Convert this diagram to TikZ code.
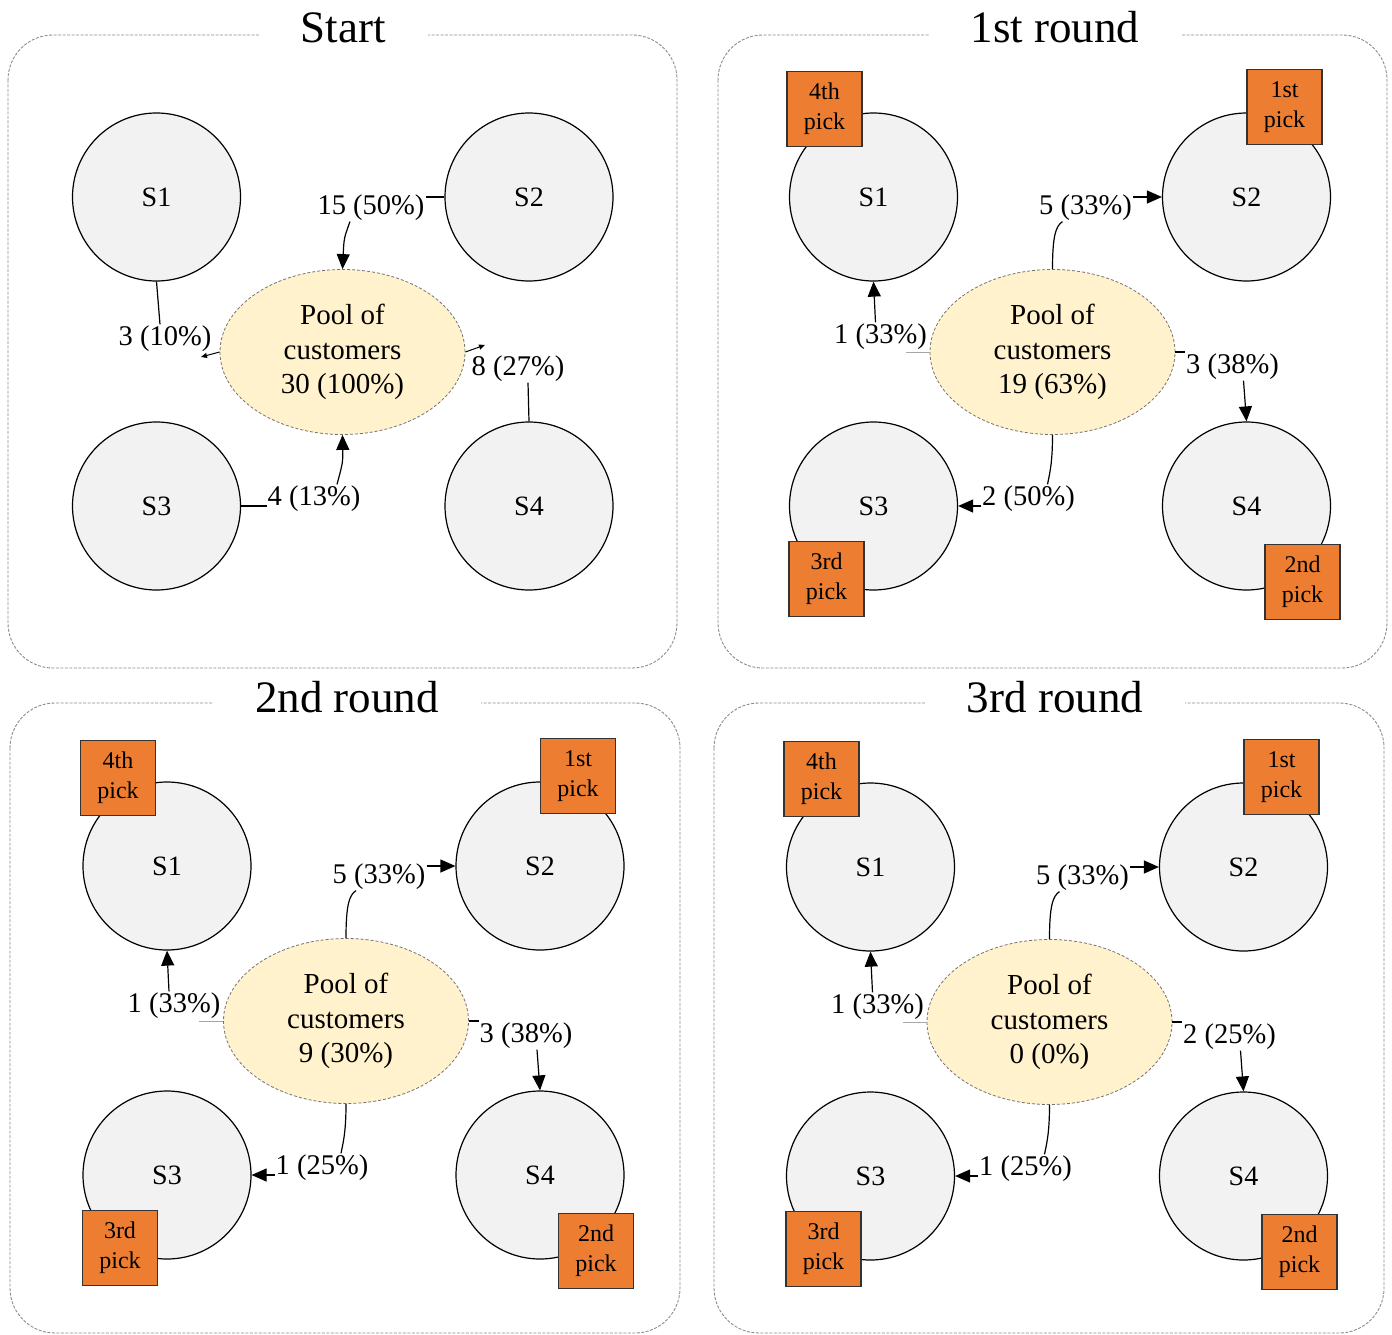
\documentclass[tikz,border=0pt]{standalone}
\usepackage{fontspec}
\setmainfont{Liberation Serif}
\usetikzlibrary{shapes.geometric,arrows.meta}

\definecolor{stationgray}{HTML}{F2F2F2}
\definecolor{poolyellow}{HTML}{FFF2CC}
\definecolor{pickorange}{HTML}{ED7D31}

\tikzset{
  station/.style={circle, draw=black, line width=1.2pt, fill=stationgray,
    minimum size=168pt, inner sep=0pt, font=\fontsize{28}{32}\selectfont},
  pool/.style={ellipse, draw=black!55, dash pattern=on 3pt off 2pt, line width=0.8pt,
    fill=poolyellow, minimum width=245pt, minimum height=165pt, inner sep=0pt,
    align=center, font=\fontsize{29}{34.5}\selectfont},
  pick/.style={rectangle, draw=black!80, line width=1.2pt, fill=pickorange,
    minimum size=75pt, inner sep=0pt, align=center, font=\fontsize{24}{30}\selectfont},
  flow/.style={font=\fontsize{28.5}{32}\selectfont, inner sep=1pt, yshift=-2.5pt},
  link/.style={line width=1.2pt},
  faintlink/.style={line width=1pt, draw=black!35},
  arr/.style={line width=1.2pt, -{Triangle[length=15pt,width=13pt]}},
  tinyarr/.style={line width=1pt, -{Triangle[length=6pt,width=5pt]}},
  panelframe/.style={draw=black!45, dash pattern=on 3pt off 1.5pt, line width=0.9pt,
    rounded corners=45pt},
  paneltitle/.style={fill=white, inner xsep=42pt, inner ysep=3pt, anchor=base,
    font=\fontsize{45}{50}\selectfont},
}

% One round of picks, drawn around the pool centre (#2,#3).
% #1 name prefix, #4 pool count, #5 top flow, #6 right flow,
% #7 bottom flow, #8 left flow
\newcommand\roundpanel[8]{%
  \begin{scope}[shift={(#2,#3)}]
    \node[pool] (#1p) at (0,0) {Pool of\\customers\\#4};
    \node[station] (#1s1) at (-179,-155) {S1};
    \node[station] (#1s2) at (194,-155) {S2};
    \node[station] (#1s3) at (-179,154) {S3};
    \node[station] (#1s4) at (194,154) {S4};
    \node[pick] (#1k4) at (-228,-243) {4th\\pick};
    \node[pick] (#1k1) at (232,-245) {1st\\pick};
    \node[pick] (#1k3) at (-226,227) {3rd\\pick};
    \node[pick] (#1k2) at (250,230) {2nd\\pick};
    \node[flow] (#1ft) at (33,-147) {#5};
    \node[flow] (#1fr) at (180,12) {#6};
    \node[flow] (#1fb) at (-24,144) {#7};
    \node[flow] (#1fl) at (-172,-18) {#8};
    % pool -> S2
    \draw[link] (#1p.north) .. controls (0,-115) and (3,-126) .. ([xshift=-23pt]#1ft.south);
    \draw[arr] (#1ft.east |- #1s2.west) -- (#1s2.west);
    % pool -> S1
    \coordinate (#1cl) at (-147,0);
    \draw[faintlink] (#1p.west) -- (#1cl);
    \draw[arr] ([xshift=-5pt]#1fl.north) -- (#1s1.south);
    % pool -> S4
    \draw[link] (#1p.east) -- (#1fr.west |- #1p.east);
    \draw[arr] ([xshift=11pt]#1fr.south) -- (#1s4.north);
    % pool -> S3
    \draw[link] (#1p.south) .. controls (0,112) and (-3,122) .. ([xshift=19pt]#1fb.north);
    \draw[arr] (#1fb.west |- #1s3.east) -- (#1s3.east);
  \end{scope}}

\begin{document}
\begin{tikzpicture}[x=1pt,y=-1pt]
\useasboundingbox (0,0) rectangle (1392,1335);

% panel frames and titles
\draw[panelframe] (8,35) rectangle (677,668);
\draw[panelframe] (718,35) rectangle (1387,668);
\draw[panelframe] (10,703) rectangle (680,1333);
\draw[panelframe] (714,703) rectangle (1384,1333);
\node[paneltitle] (t0) at (343,43) {Start};
\node[paneltitle] (t1) at (1055,43) {1st round};
\node[paneltitle] (t2) at (347,712) {2nd round};
\node[paneltitle] (t3) at (1055,712) {3rd round};

% Start: every station hands its customers to the pool
\node[pool] (ap) at (342.5,352) {Pool of\\customers\\30 (100\%)};
\node[station] (a1) at (156.5,197) {S1};
\node[station] (a2) at (529,197) {S2};
\node[station] (a3) at (156.5,506) {S3};
\node[station] (a4) at (529,506) {S4};

\node[flow] (af1) at (165,336) {3 (10\%)};
\draw[link] (a1.south) -- ([xshift=-5pt]af1.north);
\coordinate (at1) at (201,357);
\draw[tinyarr] (ap.west) -- (at1);

\node[flow] (af2) at (371,205) {15 (50\%)};
\draw[link] (a2.west) -- (af2.east |- a2.west);
\draw[arr] ([xshift=-21pt]af2.south) .. controls (344,238) .. (ap.north);

\node[flow] (af3) at (314,496) {4 (13\%)};
\draw[link] (a3.east) -- (af3.west |- a3.east);
\draw[arr] ([xshift=23pt]af3.north) .. controls (343,462) .. (ap.south);

\node[flow] (af4) at (518,366) {8 (27\%)};
\draw[link] (a4.north) -- ([xshift=10pt]af4.south);
\coordinate (at4) at (485,345);
\draw[tinyarr] (ap.east) -- (at4);

% rounds
\roundpanel{b}{1052.5}{352}{19 (63\%)}{5 (33\%)}{3 (38\%)}{2 (50\%)}{1 (33\%)}
\roundpanel{c}{346}{1021}{9 (30\%)}{5 (33\%)}{3 (38\%)}{1 (25\%)}{1 (33\%)}
\roundpanel{d}{1049.5}{1022}{0 (0\%)}{5 (33\%)}{2 (25\%)}{1 (25\%)}{1 (33\%)}

\end{tikzpicture}
\end{document}
